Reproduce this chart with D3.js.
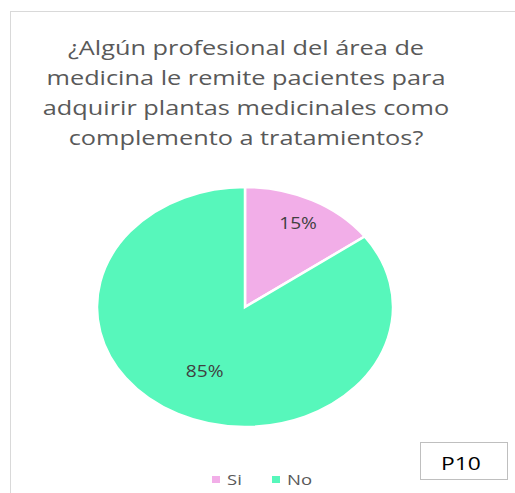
<!DOCTYPE html>
<html>
<head>
<meta charset="utf-8">
<script src="https://cdn.jsdelivr.net/npm/d3@7"></script>
<style>
  html, body { margin: 0; padding: 0; background: #fff; }
  svg text { font-family: "Open Sans", "DejaVu Sans", sans-serif; }
</style>
</head>
<body>
<div id="chart"></div>
<script>
// pregunta P10 —— datos
const titleLines = [
  "¿Algún profesional del área de",
  "medicina le remite pacientes para",
  "adquirir plantas medicinales como",
  "complemento a tratamientos?"
];
const categories = ["Si", "No"];
const values = [15, 85];
const colors = ["#f2aee8", "#57f7bb"];
const tag = "P10";

const W = 515, H = 493;
const SX = 1.235; // la imagen original está estirada en horizontal
const svg = d3.select("#chart").append("svg").attr("width", W).attr("height", H);

// texto estirado en x, anclado en (x,y)
function stext(x, y, str, size, fill, anchor) {
  return svg.append("g").attr("transform", `translate(${x},${y}) scale(${SX},1)`)
    .append("text").attr("text-anchor", anchor || "middle").attr("fill", fill)
    .style("font-size", size + "px").text(str);
}

// marco del gráfico
svg.append("rect").attr("x", 10.5).attr("y", 11.5).attr("width", W + 10).attr("height", H + 10)
  .attr("fill", "#fff").attr("stroke", "#d9d9d9").attr("stroke-width", 1);

// título
titleLines.forEach((t, i) => stext(246, 55 + i * 30, t, 20.5, "#595959"));

// pastel (ligeramente elíptico)
const rx = 148, ry = 120, cx = 245, cy = 307;
const pie = d3.pie().sort(null).value((d) => d.v);
const arcs = pie(categories.map((c, i) => ({ c, v: values[i], col: colors[i] })));
const arc = d3.arc().innerRadius(0).outerRadius(ry);
const g = svg.append("g").attr("transform", `translate(${cx},${cy}) scale(${rx / ry},1)`);
g.selectAll("path").data(arcs).join("path")
  .attr("d", arc).attr("fill", (d) => d.data.col)
  .attr("stroke", "#fff").attr("stroke-width", 2.5).attr("vector-effect", "non-scaling-stroke");

// etiquetas (radio relativo estimado de la imagen)
const labelR = [0.79, 0.6];
arcs.forEach((d, i) => {
  const a = (d.startAngle + d.endAngle) / 2;
  const x = cx + Math.sin(a) * rx * labelR[i];
  const y = cy - Math.cos(a) * ry * labelR[i];
  stext(x, y + 6, d3.format(".0%")(d.data.v / 100), 15.5, "#404040");
});

// leyenda
categories.forEach((c, i) => {
  const x0 = 212 + i * 60;
  svg.append("rect").attr("x", x0).attr("y", 476).attr("width", 8).attr("height", 7).attr("fill", colors[i]);
  stext(x0 + 15, 485, c, 15, "#595959", "start");
});

// etiqueta P10
svg.append("rect").attr("x", 420.5).attr("y", 442.5).attr("width", 87).attr("height", 37)
  .attr("fill", "#fff").attr("stroke", "#bfbfbf");
stext(461, 470, tag, 18.5, "#000");
</script>
</body>
</html>
